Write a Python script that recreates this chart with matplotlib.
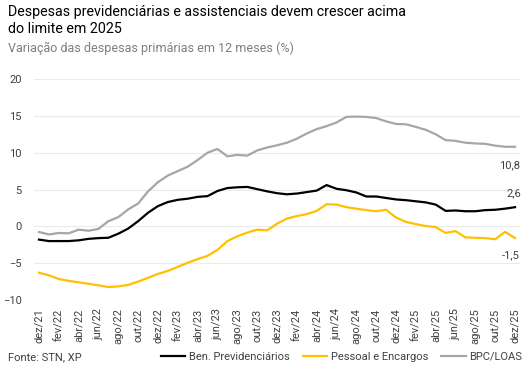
import matplotlib
matplotlib.use("Agg")
import matplotlib.pyplot as plt

plt.rcParams['font.family'] = ['Roboto', 'DejaVu Sans']

# monthly labels dez/21 .. dez/25
meses = ['jan', 'fev', 'mar', 'abr', 'mai', 'jun', 'jul', 'ago', 'set', 'out', 'nov', 'dez']
labels = ['dez/21'] + [f'{m}/{a}' for a in ['22', '23', '24', '25'] for m in meses]

ben_prev = [-1.8, -2.0, -2.0, -2.0, -1.9, -1.7, -1.6, -1.55, -1.0, -0.3, 0.7, 1.85,
            2.75, 3.3, 3.6, 3.75, 4.0, 4.1, 4.8, 5.2, 5.3, 5.35, 5.05, 4.75,
            4.5, 4.35, 4.45, 4.65, 4.85, 5.6, 5.1, 4.9, 4.6, 4.05, 4.05, 3.85,
            3.65, 3.55, 3.4, 3.25, 2.95, 2.1, 2.15, 2.05, 2.05, 2.2, 2.25, 2.4, 2.6]
pessoal = [-6.3, -6.65, -7.15, -7.4, -7.6, -7.8, -8.0, -8.25, -8.15, -7.95, -7.5, -7.0,
           -6.45, -6.05, -5.5, -4.95, -4.45, -4.0, -3.2, -2.0, -1.35, -0.85, -0.45, -0.55,
           0.35, 1.05, 1.4, 1.65, 2.1, 3.0, 2.95, 2.6, 2.4, 2.2, 2.05, 2.25,
           1.2, 0.6, 0.3, 0.05, -0.1, -0.9, -0.65, -1.5, -1.55, -1.6, -1.75, -0.75, -1.6]
bpc_loas = [-0.77, -1.1, -0.9, -0.95, -0.45, -0.6, -0.35, 0.7, 1.25, 2.3, 3.1, 4.75,
            6.0, 6.9, 7.5, 8.1, 9.0, 10.0, 10.5, 9.5, 9.7, 9.6, 10.3, 10.7,
            11.0, 11.35, 11.9, 12.6, 13.2, 13.6, 14.1, 14.85, 14.9, 14.85, 14.7, 14.25,
            13.9, 13.85, 13.5, 13.1, 12.5, 11.7, 11.6, 11.35, 11.25, 11.2, 10.95, 10.8, 10.8]

x = list(range(len(labels)))

fig = plt.figure(figsize=(5.32, 3.82), dpi=100)
ax = fig.add_axes([34 / 532, 1 - 300 / 382, 486 / 532, 221 / 382])

ax.plot(x, ben_prev, color='black', lw=1.6, label='Ben. Previdenciários')
ax.plot(x, pessoal, color='#ffc000', lw=1.6, label='Pessoal e Encargos')
ax.plot(x, bpc_loas, color='#a6a6a6', lw=1.6, label='BPC/LOAS')

ax.set_xlim(-0.5, 48.5)
ax.set_ylim(-10, 20)
ax.set_yticks([-10, -5, 0, 5, 10, 15, 20])
ax.set_xticks(x[::2])
ax.set_xticklabels(labels[::2], rotation=90)
ax.tick_params(axis='both', length=0, labelsize=8, colors='#404040')
ax.tick_params(axis='y', pad=9)
ax.tick_params(axis='x', pad=6)
ax.grid(axis='y', color='#ebebeb', lw=0.8)
ax.set_axisbelow(True)
for s in ax.spines.values():
    s.set_visible(False)

# end labels
ax.annotate('10,8', (x[-1], bpc_loas[-1]), xytext=(-4, -13), textcoords='offset points',
            ha='center', va='center', fontsize=8, color='#404040')
ax.annotate('2,6', (x[-1], ben_prev[-1]), xytext=(-1, 10), textcoords='offset points',
            ha='center', va='center', fontsize=8, color='#404040')
ax.annotate('-1,5', (x[-1], pessoal[-1]), xytext=(-3, -12), textcoords='offset points',
            ha='center', va='center', fontsize=8, color='#404040')

fig.text(8 / 532, 1 - 5 / 382, 'Despesas previdenciárias e assistenciais devem crescer acima\ndo limite em 2025',
         fontsize=10.3, color='black', va='top', ha='left', linespacing=1.25)
fig.text(8 / 532, 1 - 48 / 382, 'Variação das despesas primárias em 12 meses (%)',
         fontsize=9, color='#7f7f7f', va='center', ha='left')
fig.text(8 / 532, 1 - 357 / 382, 'Fonte: STN, XP', fontsize=8, color='#404040', va='center', ha='left')

fig.legend(loc='center right', bbox_to_anchor=(1.0, 1 - 357 / 382), ncol=3, frameon=False,
           fontsize=8, handlelength=2.2, handletextpad=0.3, columnspacing=1.2,
           labelcolor='#404040')

fig.savefig('out.png', dpi=100)
